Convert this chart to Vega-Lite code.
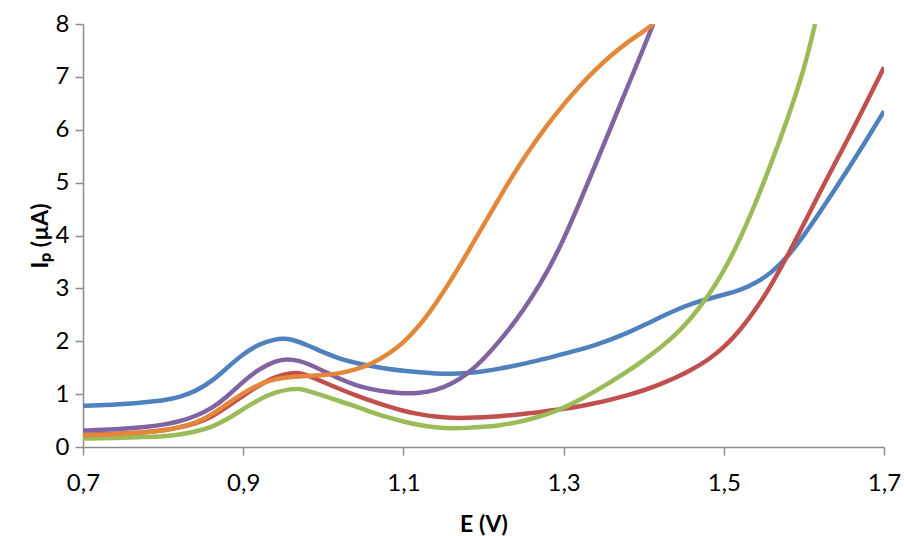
{
  "$schema": "https://vega.github.io/schema/vega-lite/v6.json",
  "width": 801,
  "height": 423,
  "autosize": {"type": "none"},
  "padding": {"left": 83, "top": 24, "right": 20, "bottom": 89},
  "background": "white",
  "config": {
    "view": {"stroke": null},
    "font": "Lato",
    "axis": {
      "grid": false,
      "domainColor": "#8c8c8c",
      "domainWidth": 1.5,
      "tickColor": "#8c8c8c",
      "tickWidth": 1.5,
      "tickSize": 8,
      "labelColor": "#000000",
      "labelFont": "Lato",
      "labelFontSize": 24,
      "titleColor": "#000000",
      "titleFont": "Lato",
      "titleFontSize": 23,
      "titleFontWeight": "bold"
    }
  },
  "datasets": {
    "curves": [
      {"s": "1", "E": 0.70, "I": 0.78}, {"s": "1", "E": 0.72, "I": 0.79}, {"s": "1", "E": 0.74, "I": 0.80},
      {"s": "1", "E": 0.76, "I": 0.82}, {"s": "1", "E": 0.78, "I": 0.85}, {"s": "1", "E": 0.80, "I": 0.88},
      {"s": "1", "E": 0.82, "I": 0.94}, {"s": "1", "E": 0.84, "I": 1.05}, {"s": "1", "E": 0.86, "I": 1.23},
      {"s": "1", "E": 0.88, "I": 1.50}, {"s": "1", "E": 0.90, "I": 1.76}, {"s": "1", "E": 0.92, "I": 1.95},
      {"s": "1", "E": 0.94, "I": 2.04}, {"s": "1", "E": 0.95, "I": 2.05}, {"s": "1", "E": 0.96, "I": 2.04},
      {"s": "1", "E": 0.98, "I": 1.93}, {"s": "1", "E": 1.00, "I": 1.79}, {"s": "1", "E": 1.02, "I": 1.67},
      {"s": "1", "E": 1.04, "I": 1.59}, {"s": "1", "E": 1.06, "I": 1.53}, {"s": "1", "E": 1.08, "I": 1.48},
      {"s": "1", "E": 1.10, "I": 1.44}, {"s": "1", "E": 1.12, "I": 1.41}, {"s": "1", "E": 1.14, "I": 1.39},
      {"s": "1", "E": 1.16, "I": 1.38}, {"s": "1", "E": 1.18, "I": 1.40}, {"s": "1", "E": 1.20, "I": 1.43},
      {"s": "1", "E": 1.22, "I": 1.48}, {"s": "1", "E": 1.24, "I": 1.54}, {"s": "1", "E": 1.26, "I": 1.61},
      {"s": "1", "E": 1.28, "I": 1.68}, {"s": "1", "E": 1.30, "I": 1.76}, {"s": "1", "E": 1.32, "I": 1.84},
      {"s": "1", "E": 1.34, "I": 1.93}, {"s": "1", "E": 1.36, "I": 2.04}, {"s": "1", "E": 1.38, "I": 2.16},
      {"s": "1", "E": 1.40, "I": 2.30}, {"s": "1", "E": 1.42, "I": 2.45}, {"s": "1", "E": 1.44, "I": 2.59},
      {"s": "1", "E": 1.46, "I": 2.71}, {"s": "1", "E": 1.48, "I": 2.80}, {"s": "1", "E": 1.50, "I": 2.88},
      {"s": "1", "E": 1.52, "I": 2.96}, {"s": "1", "E": 1.54, "I": 3.10}, {"s": "1", "E": 1.56, "I": 3.30},
      {"s": "1", "E": 1.58, "I": 3.60}, {"s": "1", "E": 1.60, "I": 4.00}, {"s": "1", "E": 1.62, "I": 4.44},
      {"s": "1", "E": 1.64, "I": 4.90}, {"s": "1", "E": 1.66, "I": 5.37}, {"s": "1", "E": 1.68, "I": 5.85},
      {"s": "1", "E": 1.70, "I": 6.35},

      {"s": "2", "E": 0.70, "I": 0.23}, {"s": "2", "E": 0.74, "I": 0.25}, {"s": "2", "E": 0.78, "I": 0.28},
      {"s": "2", "E": 0.80, "I": 0.31}, {"s": "2", "E": 0.82, "I": 0.37}, {"s": "2", "E": 0.84, "I": 0.44},
      {"s": "2", "E": 0.86, "I": 0.56}, {"s": "2", "E": 0.88, "I": 0.76}, {"s": "2", "E": 0.90, "I": 0.97},
      {"s": "2", "E": 0.92, "I": 1.17}, {"s": "2", "E": 0.94, "I": 1.33}, {"s": "2", "E": 0.96, "I": 1.40},
      {"s": "2", "E": 0.97, "I": 1.40}, {"s": "2", "E": 0.98, "I": 1.36}, {"s": "2", "E": 1.00, "I": 1.23},
      {"s": "2", "E": 1.02, "I": 1.10}, {"s": "2", "E": 1.04, "I": 0.98}, {"s": "2", "E": 1.06, "I": 0.87},
      {"s": "2", "E": 1.08, "I": 0.77}, {"s": "2", "E": 1.10, "I": 0.68}, {"s": "2", "E": 1.12, "I": 0.62},
      {"s": "2", "E": 1.14, "I": 0.57}, {"s": "2", "E": 1.16, "I": 0.55}, {"s": "2", "E": 1.18, "I": 0.55},
      {"s": "2", "E": 1.20, "I": 0.56}, {"s": "2", "E": 1.22, "I": 0.58}, {"s": "2", "E": 1.24, "I": 0.61},
      {"s": "2", "E": 1.26, "I": 0.64}, {"s": "2", "E": 1.28, "I": 0.68}, {"s": "2", "E": 1.30, "I": 0.72},
      {"s": "2", "E": 1.32, "I": 0.77}, {"s": "2", "E": 1.34, "I": 0.83}, {"s": "2", "E": 1.36, "I": 0.90},
      {"s": "2", "E": 1.38, "I": 0.98}, {"s": "2", "E": 1.40, "I": 1.07}, {"s": "2", "E": 1.42, "I": 1.18},
      {"s": "2", "E": 1.44, "I": 1.31}, {"s": "2", "E": 1.46, "I": 1.46}, {"s": "2", "E": 1.48, "I": 1.64},
      {"s": "2", "E": 1.50, "I": 1.88}, {"s": "2", "E": 1.52, "I": 2.20}, {"s": "2", "E": 1.54, "I": 2.60},
      {"s": "2", "E": 1.56, "I": 3.08}, {"s": "2", "E": 1.58, "I": 3.63}, {"s": "2", "E": 1.60, "I": 4.22},
      {"s": "2", "E": 1.62, "I": 4.82}, {"s": "2", "E": 1.64, "I": 5.40}, {"s": "2", "E": 1.66, "I": 5.97},
      {"s": "2", "E": 1.68, "I": 6.57}, {"s": "2", "E": 1.70, "I": 7.18},

      {"s": "3", "E": 0.70, "I": 0.16}, {"s": "3", "E": 0.74, "I": 0.17}, {"s": "3", "E": 0.78, "I": 0.19},
      {"s": "3", "E": 0.80, "I": 0.20}, {"s": "3", "E": 0.82, "I": 0.23}, {"s": "3", "E": 0.84, "I": 0.29},
      {"s": "3", "E": 0.86, "I": 0.37}, {"s": "3", "E": 0.88, "I": 0.52}, {"s": "3", "E": 0.90, "I": 0.72},
      {"s": "3", "E": 0.92, "I": 0.90}, {"s": "3", "E": 0.94, "I": 1.04}, {"s": "3", "E": 0.96, "I": 1.10},
      {"s": "3", "E": 0.97, "I": 1.10}, {"s": "3", "E": 0.98, "I": 1.07}, {"s": "3", "E": 1.00, "I": 0.97},
      {"s": "3", "E": 1.02, "I": 0.87}, {"s": "3", "E": 1.04, "I": 0.77}, {"s": "3", "E": 1.06, "I": 0.66},
      {"s": "3", "E": 1.08, "I": 0.56}, {"s": "3", "E": 1.10, "I": 0.48}, {"s": "3", "E": 1.12, "I": 0.41},
      {"s": "3", "E": 1.14, "I": 0.37}, {"s": "3", "E": 1.16, "I": 0.35}, {"s": "3", "E": 1.18, "I": 0.36},
      {"s": "3", "E": 1.20, "I": 0.38}, {"s": "3", "E": 1.22, "I": 0.41}, {"s": "3", "E": 1.24, "I": 0.46},
      {"s": "3", "E": 1.26, "I": 0.53}, {"s": "3", "E": 1.28, "I": 0.62}, {"s": "3", "E": 1.30, "I": 0.74},
      {"s": "3", "E": 1.32, "I": 0.89}, {"s": "3", "E": 1.34, "I": 1.06}, {"s": "3", "E": 1.36, "I": 1.24},
      {"s": "3", "E": 1.38, "I": 1.43}, {"s": "3", "E": 1.40, "I": 1.64}, {"s": "3", "E": 1.42, "I": 1.87},
      {"s": "3", "E": 1.44, "I": 2.12}, {"s": "3", "E": 1.46, "I": 2.45}, {"s": "3", "E": 1.48, "I": 2.84},
      {"s": "3", "E": 1.50, "I": 3.32}, {"s": "3", "E": 1.52, "I": 3.92}, {"s": "3", "E": 1.54, "I": 4.62},
      {"s": "3", "E": 1.56, "I": 5.40}, {"s": "3", "E": 1.58, "I": 6.22}, {"s": "3", "E": 1.60, "I": 7.12},
      {"s": "3", "E": 1.614, "I": 8.00},

      {"s": "4", "E": 0.70, "I": 0.31}, {"s": "4", "E": 0.74, "I": 0.33}, {"s": "4", "E": 0.78, "I": 0.38},
      {"s": "4", "E": 0.80, "I": 0.42}, {"s": "4", "E": 0.82, "I": 0.48}, {"s": "4", "E": 0.84, "I": 0.58},
      {"s": "4", "E": 0.86, "I": 0.72}, {"s": "4", "E": 0.88, "I": 0.95}, {"s": "4", "E": 0.90, "I": 1.24},
      {"s": "4", "E": 0.92, "I": 1.48}, {"s": "4", "E": 0.94, "I": 1.63}, {"s": "4", "E": 0.955, "I": 1.67},
      {"s": "4", "E": 0.97, "I": 1.63}, {"s": "4", "E": 0.98, "I": 1.58}, {"s": "4", "E": 1.00, "I": 1.44},
      {"s": "4", "E": 1.02, "I": 1.29}, {"s": "4", "E": 1.04, "I": 1.17}, {"s": "4", "E": 1.06, "I": 1.09},
      {"s": "4", "E": 1.08, "I": 1.04}, {"s": "4", "E": 1.10, "I": 1.01}, {"s": "4", "E": 1.12, "I": 1.02},
      {"s": "4", "E": 1.14, "I": 1.07}, {"s": "4", "E": 1.16, "I": 1.19}, {"s": "4", "E": 1.18, "I": 1.38},
      {"s": "4", "E": 1.20, "I": 1.66}, {"s": "4", "E": 1.22, "I": 2.00}, {"s": "4", "E": 1.24, "I": 2.38},
      {"s": "4", "E": 1.26, "I": 2.82}, {"s": "4", "E": 1.28, "I": 3.32}, {"s": "4", "E": 1.30, "I": 3.92},
      {"s": "4", "E": 1.32, "I": 4.62}, {"s": "4", "E": 1.34, "I": 5.35}, {"s": "4", "E": 1.36, "I": 6.08},
      {"s": "4", "E": 1.38, "I": 6.82}, {"s": "4", "E": 1.40, "I": 7.55}, {"s": "4", "E": 1.412, "I": 8.00},

      {"s": "5", "E": 0.70, "I": 0.22}, {"s": "5", "E": 0.74, "I": 0.24}, {"s": "5", "E": 0.78, "I": 0.28},
      {"s": "5", "E": 0.80, "I": 0.31}, {"s": "5", "E": 0.82, "I": 0.37}, {"s": "5", "E": 0.84, "I": 0.45},
      {"s": "5", "E": 0.86, "I": 0.60}, {"s": "5", "E": 0.88, "I": 0.82}, {"s": "5", "E": 0.90, "I": 1.02},
      {"s": "5", "E": 0.92, "I": 1.19}, {"s": "5", "E": 0.94, "I": 1.29}, {"s": "5", "E": 0.96, "I": 1.33},
      {"s": "5", "E": 0.98, "I": 1.34}, {"s": "5", "E": 1.00, "I": 1.36}, {"s": "5", "E": 1.02, "I": 1.39},
      {"s": "5", "E": 1.04, "I": 1.46}, {"s": "5", "E": 1.06, "I": 1.57}, {"s": "5", "E": 1.08, "I": 1.74},
      {"s": "5", "E": 1.10, "I": 1.97}, {"s": "5", "E": 1.12, "I": 2.29}, {"s": "5", "E": 1.14, "I": 2.70},
      {"s": "5", "E": 1.16, "I": 3.17}, {"s": "5", "E": 1.18, "I": 3.67}, {"s": "5", "E": 1.20, "I": 4.20},
      {"s": "5", "E": 1.22, "I": 4.72}, {"s": "5", "E": 1.24, "I": 5.22}, {"s": "5", "E": 1.26, "I": 5.68},
      {"s": "5", "E": 1.28, "I": 6.10}, {"s": "5", "E": 1.30, "I": 6.48}, {"s": "5", "E": 1.32, "I": 6.83},
      {"s": "5", "E": 1.34, "I": 7.14}, {"s": "5", "E": 1.36, "I": 7.42}, {"s": "5", "E": 1.38, "I": 7.66},
      {"s": "5", "E": 1.40, "I": 7.86}, {"s": "5", "E": 1.412, "I": 8.00}
    ]
  },
  "data": {"name": "curves"},
  "mark": {"type": "line", "interpolate": "basis", "strokeWidth": 4.5, "clip": true},
  "encoding": {
    "x": {
      "field": "E",
      "type": "quantitative",
      "scale": {"domain": [0.7, 1.7], "nice": false, "zero": false},
      "axis": {
        "title": "E (V)",
        "values": [0.7, 0.9, 1.1, 1.3, 1.5, 1.7],
        "labelExpr": "replace(format(datum.value, '.1f'), '.', ',')",
        "labelPadding": 16,
        "labelFlush": false,
        "titlePadding": 18
      }
    },
    "y": {
      "field": "I",
      "type": "quantitative",
      "scale": {"domain": [0, 8], "nice": false},
      "axis": {
        "title": "Iₚ  (µA)",
        "values": [0, 1, 2, 3, 4, 5, 6, 7, 8],
        "format": "d",
        "labelPadding": 6,
        "titlePadding": 3
      }
    },
    "color": {
      "field": "s",
      "type": "nominal",
      "legend": null,
      "scale": {
        "domain": ["1", "2", "3", "4", "5"],
        "range": ["#4f81bd", "#c0504d", "#9bbb59", "#8064a2", "#e3883b"]
      }
    }
  }
}
